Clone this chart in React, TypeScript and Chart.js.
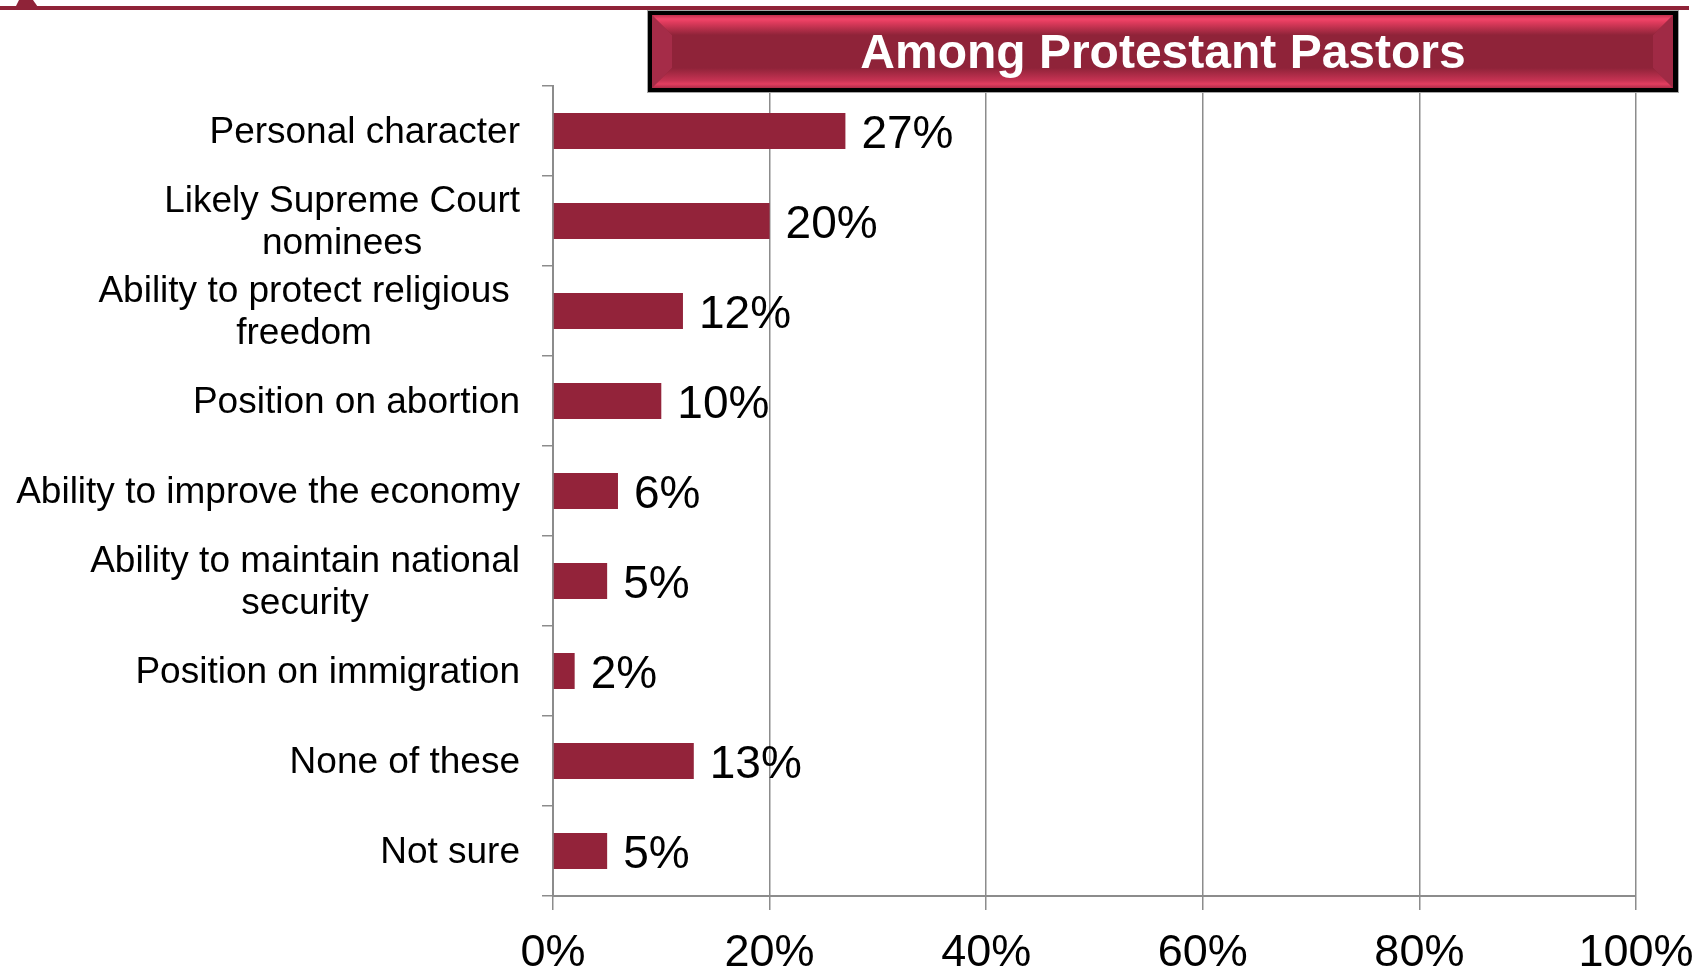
import React, { useEffect, useRef } from "react";
import { Chart, registerables } from "chart.js";

Chart.register(...registerables);

const categories: string[][] = [
  ["Personal character"],
  ["Likely Supreme Court", "nominees"],
  ["Ability to protect religious ", "freedom"],
  ["Position on abortion"],
  ["Ability to improve the economy"],
  ["Ability to maintain national", "security"],
  ["Position on immigration"],
  ["None of these"],
  ["Not sure"],
];
const values: number[] = [27, 20, 12, 10, 6, 5, 2, 13, 5];
const xTickValues: number[] = [0, 20, 40, 60, 80, 100];
const title = "Among Protestant Pastors";

const FONT = "'Liberation Sans', Arial, Helvetica, sans-serif";
const BAR = "#93233a";
const GRID = "#8c8c8c";

const decor = {
  id: "decor",
  afterDatasetsDraw(chart: any) {
    const ctx = chart.ctx as CanvasRenderingContext2D;
    const meta = chart.getDatasetMeta(0);
    ctx.save();
    // value labels
    ctx.font = `46px ${FONT}`;
    ctx.fillStyle = "#000";
    ctx.textAlign = "left";
    ctx.textBaseline = "middle";
    meta.data.forEach((bar: any, i: number) => {
      const p = bar.getProps(["x", "y"], true);
      ctx.fillText(values[i] + "%", p.x + 16, p.y + 4);
    });
    // category labels
    const ys = chart.scales.y;
    ctx.font = `37px ${FONT}`;
    ctx.textAlign = "center";
    const labelRight = ys.right - 33;
    const lineH = 42.5;
    categories.forEach((lines, i) => {
      const cy = ys.getPixelForValue(i);
      const trimmed = lines.map((l) => l.replace(/\s+$/, ""));
      const widths = trimmed.map((l) => ctx.measureText(l).width);
      const fullW = lines.map((l) => ctx.measureText(l).width);
      const trail = Math.max(...fullW.map((w, j) => w - widths[j]));
      const maxw = Math.max(...widths);
      const cx = labelRight - trail - maxw / 2;
      trimmed.forEach((l, j) => {
        ctx.fillText(l, cx, cy + 2 + (j - (lines.length - 1) / 2) * lineH);
      });
    });
    ctx.restore();
  },
  afterDraw(chart: any) {
    const ctx = chart.ctx as CanvasRenderingContext2D;
    ctx.save();
    // top rule
    ctx.fillStyle = "#8f2338";
    ctx.fillRect(0, 6, 1689, 4);
    ctx.beginPath();
    ctx.moveTo(14, 10);
    ctx.lineTo(40, 10);
    ctx.lineTo(33, 0);
    ctx.lineTo(19, 0);
    ctx.closePath();
    ctx.fill();

    // title box
    const ox = 647, oy = 10, ow = 1679 - 647, oh = 93 - 10;
    ctx.fillStyle = "#a6a6a6";
    ctx.fillRect(ox, oy, ow, oh);
    ctx.fillStyle = "#000";
    ctx.fillRect(ox + 1, oy + 1, ow - 2, oh - 2);
    const L = 652, T = 15, R = 1673, B = 88;
    ctx.fillStyle = "#8f2339";
    ctx.fillRect(L, T, R - L, B - T);
    const bv = 20;
    // left bevel
    ctx.fillStyle = "#a52c48";
    ctx.beginPath();
    ctx.moveTo(L, T); ctx.lineTo(L + bv, T + bv); ctx.lineTo(L + bv, B - bv); ctx.lineTo(L, B); ctx.closePath(); ctx.fill();
    // right bevel
    ctx.fillStyle = "#a02a45";
    ctx.beginPath();
    ctx.moveTo(R, T); ctx.lineTo(R - bv, T + bv); ctx.lineTo(R - bv, B - bv); ctx.lineTo(R, B); ctx.closePath(); ctx.fill();
    // top bevel
    let g = ctx.createLinearGradient(0, T, 0, T + bv);
    g.addColorStop(0, "#c2304e");
    g.addColorStop(0.2, "#f2466a");
    g.addColorStop(0.35, "#e23c5e");
    g.addColorStop(1, "#8f2339");
    ctx.fillStyle = g;
    ctx.beginPath();
    ctx.moveTo(L, T); ctx.lineTo(R, T); ctx.lineTo(R - bv, T + bv); ctx.lineTo(L + bv, T + bv); ctx.closePath(); ctx.fill();
    // bottom bevel
    g = ctx.createLinearGradient(0, B - bv, 0, B);
    g.addColorStop(0, "#8f2339");
    g.addColorStop(0.6, "#c43252");
    g.addColorStop(0.8, "#e43e60");
    g.addColorStop(1, "#b02c49");
    ctx.fillStyle = g;
    ctx.beginPath();
    ctx.moveTo(L, B); ctx.lineTo(R, B); ctx.lineTo(R - bv, B - bv); ctx.lineTo(L + bv, B - bv); ctx.closePath(); ctx.fill();
    // title text
    ctx.fillStyle = "#fff";
    ctx.font = `bold 48px ${FONT}`;
    ctx.textAlign = "center";
    ctx.textBaseline = "alphabetic";
    ctx.fillText(title, (ox + ox + ow) / 2, 68);
    ctx.restore();
  },
};

export default function App() {
  const ref = useRef<HTMLCanvasElement | null>(null);
  useEffect(() => {
    document.body.style.margin = "0";
    const canvas = ref.current!;
    const chart = new Chart(canvas, {
      type: "bar",
      data: {
        labels: categories.map((c) => c.join(" ")),
        datasets: [
          {
            data: values,
            backgroundColor: BAR,
            borderWidth: 0,
            barPercentage: 0.4,
            categoryPercentage: 1,
          },
        ],
      },
      options: {
        indexAxis: "y",
        responsive: false,
        animation: false,
        devicePixelRatio: 1,
        layout: { padding: { left: 0, right: 64, top: 86, bottom: 0 } },
        plugins: { legend: { display: false }, tooltip: { enabled: false }, title: { display: false } },
        scales: {
          x: {
            min: 0,
            max: 100,
            afterBuildTicks: (scale: any) => {
              scale.ticks = xTickValues.map((v) => ({ value: v }));
            },
            afterFit: (scale: any) => {
              scale.height = 973 - 896;
              scale.paddingLeft = 0;
              scale.paddingRight = 0;
            },
            grid: { color: GRID, lineWidth: 1.5, tickLength: 14, drawOnChartArea: true },
            border: { display: true, color: GRID, width: 2 },
            ticks: {
              font: { family: FONT, size: 45, lineHeight: 1.2 },
              color: "#000",
              padding: 17,
              maxRotation: 0,
              callback: (v: any) => v + "%",
            },
          },
          y: {
            afterFit: (scale: any) => {
              scale.width = 553;
              scale.paddingTop = 0;
              scale.paddingBottom = 0;
            },
            grid: { color: GRID, lineWidth: 1.5, tickLength: 11, drawOnChartArea: false, offset: true },
            border: { display: true, color: GRID, width: 2 },
            ticks: { display: false },
          },
        },
      },
      plugins: [decor],
    });
    return () => chart.destroy();
  }, []);
  return (
    <div style={{ position: "fixed", left: 0, top: 0, width: 1700, height: 973, background: "#fff" }}>
      <canvas ref={ref} width={1700} height={973} style={{ width: 1700, height: 973, display: "block" }} />
    </div>
  );
}
